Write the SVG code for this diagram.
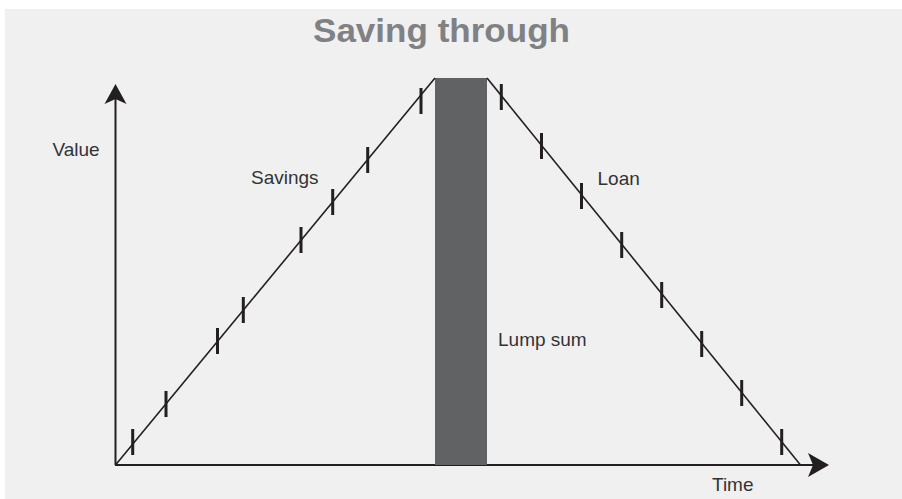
<svg xmlns="http://www.w3.org/2000/svg" width="902" height="499" viewBox="0 0 902 499">
<style>
.lbl{font-family:"Liberation Sans",Arial,sans-serif;font-size:19px;fill:#333335}
.title{font-family:"Liberation Sans",Arial,sans-serif;font-size:33px;font-weight:bold;fill:#808184}
.ln{stroke:#231f20;stroke-width:1.6;fill:none}
.ax{stroke:#231f20;stroke-width:2;fill:none}
.tk{stroke:#231f20;stroke-width:3}
.ah{fill:#231f20}
</style>
<rect x="5" y="9" width="897" height="490" fill="#f0f0f0"/>
<text class="title" x="441.5" y="42" text-anchor="middle" textLength="257" lengthAdjust="spacingAndGlyphs">Saving through</text>
<g id="axes">
<line class="ax" x1="115.5" y1="98" x2="115.5" y2="465"/>
<line class="ax" x1="115" y1="465" x2="814" y2="465"/>
<path class="ah" d="M115.5,84 L126.5,104 L115.5,99 L104.5,104 Z"/>
<path class="ah" d="M829,465 L808,453 L813,465 L808,477 Z"/>
<text class="lbl" x="52.5" y="156">Value</text>
<text class="lbl" x="712" y="491">Time</text>
</g>
<g id="lump-sum">
<rect x="435" y="78" width="52" height="387" fill="#616264"/>
<text class="lbl" x="498" y="346">Lump sum</text>
</g>
<g id="connectors">
<g id="savings">
<line class="ln" x1="115.5" y1="465" x2="435" y2="78"/>
<text class="lbl" x="251" y="184">Savings</text>
<g class="tk">
<line x1="132.7" y1="429" x2="132.7" y2="455"/>
<line x1="166" y1="391" x2="166" y2="417"/>
<line x1="217.5" y1="328" x2="217.5" y2="354"/>
<line x1="243.3" y1="297" x2="243.3" y2="323"/>
<line x1="301" y1="227" x2="301" y2="253"/>
<line x1="332.7" y1="189" x2="332.7" y2="215"/>
<line x1="367.7" y1="147" x2="367.7" y2="173"/>
<line x1="421" y1="88" x2="421" y2="114"/>
</g>
</g>
<g id="loan">
<line class="ln" x1="487" y1="78" x2="800.5" y2="465"/>
<text class="lbl" x="597.5" y="184.5">Loan</text>
<g class="tk">
<line x1="501.3" y1="84" x2="501.3" y2="110"/>
<line x1="541.5" y1="133" x2="541.5" y2="159"/>
<line x1="581.5" y1="183" x2="581.5" y2="209"/>
<line x1="621.7" y1="232" x2="621.7" y2="258"/>
<line x1="661.7" y1="282" x2="661.7" y2="308"/>
<line x1="701.7" y1="331" x2="701.7" y2="357"/>
<line x1="741.7" y1="380" x2="741.7" y2="406"/>
<line x1="781.7" y1="429" x2="781.7" y2="455"/>
</g>
</g>
</g>
</svg>
